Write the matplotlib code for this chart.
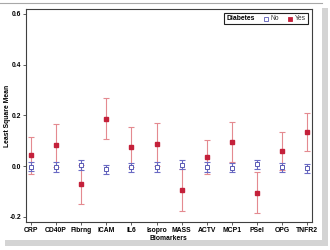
import matplotlib
matplotlib.use("Agg")
import matplotlib.pyplot as plt
from matplotlib.patches import Rectangle
from matplotlib.lines import Line2D
from matplotlib.offsetbox import HPacker, TextArea, DrawingArea, AnchoredOffsetbox

plt.rcParams['font.family'] = ['Liberation Sans', 'DejaVu Sans']
plt.rcParams['font.weight'] = 'bold'

biomarkers = ["CRP", "CD40P", "Fibrng", "ICAM", "IL6", "Isopro", "MASS",
              "ACTV", "MCP1", "PSel", "OPG", "TNFR2"]

no_mean = [-0.002, -0.005, 0.003, -0.012, -0.005, -0.005, 0.006, -0.003, -0.009, 0.008, -0.005, -0.009]
no_lo = [-0.018, -0.024, -0.016, -0.032, -0.023, -0.024, -0.012, -0.022, -0.025, -0.012, -0.023, -0.027]
no_hi = [0.014, 0.014, 0.024, 0.004, 0.013, 0.016, 0.024, 0.014, 0.013, 0.024, 0.013, 0.008]

yes_mean = [0.042, 0.081, -0.072, 0.186, 0.074, 0.085, -0.094, 0.035, 0.094, -0.105, 0.059, 0.134]
yes_lo = [-0.032, -0.003, -0.150, 0.107, -0.004, -0.001, -0.177, -0.033, 0.015, -0.187, -0.015, 0.058]
yes_hi = [0.113, 0.165, 0.006, 0.267, 0.152, 0.171, -0.011, 0.104, 0.173, -0.023, 0.133, 0.208]

yticks = [-0.2, 0.0, 0.2, 0.4, 0.6]

W, H = 330, 250
fig = plt.figure(figsize=(3.3, 2.5), dpi=100)
fig.patch.set_facecolor('white')

# background panel with shadow
bg = fig.add_axes([0, 0, 1, 1], zorder=-5)
bg.set_xlim(0, W)
bg.set_ylim(H, 0)
bg.axis('off')
bg.add_patch(Rectangle((5, 8), 323, 238, facecolor='#d4d4d4', edgecolor='none'))
bg.add_patch(Rectangle((0, 3), 322, 237, facecolor='white', edgecolor='none'))
bg.plot([0, 322], [3, 3], color='#a8a8a8', lw=0.8)

ax = fig.add_axes([26 / W, 1 - 221.7 / H, (311.7 - 26) / W, (221.7 - 9.3) / H])
ax.set_facecolor('white')

x = list(range(len(biomarkers)))
yes_err = [[m - l for m, l in zip(yes_mean, yes_lo)], [h - m for m, h in zip(yes_mean, yes_hi)]]
no_err = [[m - l for m, l in zip(no_mean, no_lo)], [h - m for m, h in zip(no_mean, no_hi)]]

ax.errorbar(x, yes_mean, yerr=yes_err, fmt='none', ecolor='#e48a90', elinewidth=0.8,
            capsize=2.2, capthick=0.8, zorder=2)
ax.plot(x, yes_mean, linestyle='none', marker='s', markersize=3.2,
        markerfacecolor='#c4203a', markeredgecolor='#c4203a', zorder=3)
ax.errorbar(x, no_mean, yerr=no_err, fmt='none', ecolor='#6a6ac4', elinewidth=0.8,
            capsize=2.2, capthick=0.8, zorder=4)
ax.plot(x, no_mean, linestyle='none', marker='s', markersize=3.0,
        markerfacecolor='white', markeredgecolor='#5a5ab4', markeredgewidth=0.7, zorder=5)

ax.set_xlim(-0.2, 11.18)
ax.set_ylim(-0.2195, 0.618)
ax.set_xticks(x)
ax.set_xticklabels(biomarkers)
ax.set_yticks(yticks)
ax.set_yticklabels([f"{v:.1f}" for v in yticks])
ax.tick_params(axis='both', labelsize=4.9, length=2.2, width=0.6, color='#404040', pad=1.5)
for lab in ax.get_xticklabels() + ax.get_yticklabels():
    lab.set_fontweight('bold')
for s in ax.spines.values():
    s.set_color('#404040')
    s.set_linewidth(0.8)

ax.set_xlabel("Biomarkers", fontsize=4.9, fontweight='bold', labelpad=1)
ax.set_ylabel("Least Square Mean", fontsize=4.9, fontweight='bold')
ax.yaxis.set_label_coords(-0.053, 0.5)

# legend
title = TextArea("Diabetes", textprops=dict(fontsize=4.9, fontweight='bold', color='black'))

def marker_box(fc, ec):
    da = DrawingArea(4, 4, 0, 0)
    da.add_artist(Line2D([2], [2], marker='s', markersize=2.6, linestyle='none',
                         markerfacecolor=fc, markeredgecolor=ec, markeredgewidth=0.6))
    return da

no_t = TextArea("No", textprops=dict(fontsize=4.9, fontweight='normal', color='#333333'))
yes_t = TextArea("Yes", textprops=dict(fontsize=4.9, fontweight='normal', color='#333333'))
row = HPacker(children=[title, HPacker(children=[marker_box('white', '#5a5ab4'), no_t], sep=1.5, pad=0, align='center'),
                        HPacker(children=[marker_box('#c4203a', '#c4203a'), yes_t], sep=1.5, pad=0, align='center')],
              sep=6, pad=0, align='center')
anch = AnchoredOffsetbox(loc='upper right', child=row, pad=0.12, borderpad=0.3, frameon=True,
                         bbox_to_anchor=(1, 1), bbox_transform=ax.transAxes)
anch.patch.set_edgecolor('#202020')
anch.patch.set_linewidth(0.8)
anch.patch.set_boxstyle('square', pad=0)
ax.add_artist(anch)

fig.savefig("out.png", dpi=100, facecolor=fig.get_facecolor())
